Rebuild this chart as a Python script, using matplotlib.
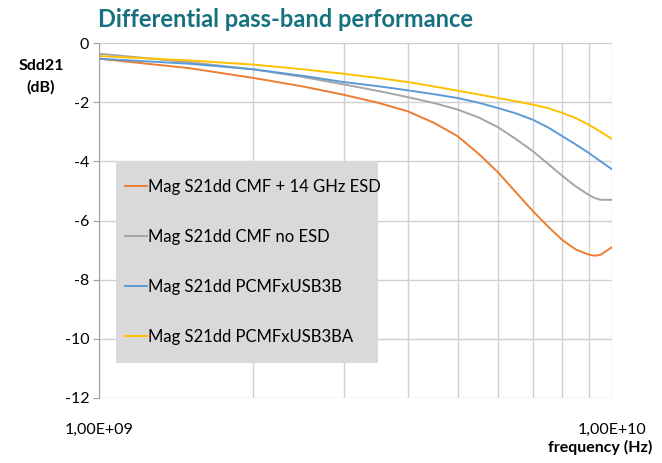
import numpy as np
import matplotlib
matplotlib.use("Agg")
import matplotlib.pyplot as plt
from matplotlib.patches import Rectangle
from matplotlib.ticker import FixedLocator, NullFormatter

plt.rcParams['font.family'] = ['Lato', 'DejaVu Sans']
plt.rcParams['axes.unicode_minus'] = False

# frequency points (GHz) and Sdd21 values (dB)
freq_ghz = [1.0, 1.5, 2.0, 2.5, 3.0, 3.5, 4.0, 4.5, 5.0, 5.5,
            6.0, 6.5, 7.0, 7.5, 8.0, 8.5, 9.0, 9.25, 9.5, 10.0]
cmf_14ghz_esd = [-0.53, -0.85, -1.18, -1.47, -1.75, -2.02, -2.31, -2.70, -3.15, -3.75,
                 -4.38, -5.05, -5.67, -6.20, -6.66, -6.98, -7.15, -7.19, -7.16, -6.90]
cmf_no_esd = [-0.36, -0.65, -0.89, -1.15, -1.40, -1.62, -1.83, -2.03, -2.25, -2.52,
              -2.85, -3.25, -3.65, -4.08, -4.49, -4.85, -5.13, -5.24, -5.30, -5.30]
pcmf_usb3b = [-0.53, -0.70, -0.89, -1.11, -1.32, -1.46, -1.60, -1.73, -1.86, -2.02,
              -2.20, -2.38, -2.59, -2.85, -3.15, -3.43, -3.71, -3.86, -4.00, -4.27]
pcmf_usb3ba = [-0.44, -0.59, -0.73, -0.89, -1.04, -1.18, -1.32, -1.47, -1.61, -1.74,
               -1.86, -1.97, -2.08, -2.20, -2.36, -2.54, -2.76, -2.88, -3.00, -3.24]

labels = ["Mag S21dd CMF + 14 GHz ESD", "Mag S21dd CMF no ESD",
          "Mag S21dd PCMFxUSB3B", "Mag S21dd PCMFxUSB3BA"]
colors = ["#ED7D31", "#A5A5A5", "#5B9BD5", "#FFC000"]

freq = np.array(freq_ghz) * 1e9

fig = plt.figure(figsize=(6.62, 4.63), dpi=100)
ax = fig.add_axes([0.1495, 0.1404, 0.775, 0.7667])

for vals, lab, col in zip([cmf_14ghz_esd, cmf_no_esd, pcmf_usb3b, pcmf_usb3ba], labels, colors):
    ax.plot(freq, vals, color=col, lw=1.4, label=lab)

ax.set_xscale('log')
ax.set_xlim(1e9, 1e10)
ax.set_ylim(-12, 0)
ax.set_yticks(np.arange(-12, 1, 2))
ax.xaxis.set_major_locator(FixedLocator([1e9, 1e10]))
ax.xaxis.set_minor_locator(FixedLocator([k * 1e9 for k in range(2, 10)]))
ax.xaxis.set_minor_formatter(NullFormatter())
ax.set_xticklabels(["1,00E+09", "1,00E+10"])

ax.grid(True, which='both', color='#D0D0D0', lw=1.0)
ax.set_axisbelow(True)
for s in ['top', 'right', 'bottom']:
    ax.spines[s].set_visible(False)
ax.spines['left'].set_color('#A0A0A0')
ax.tick_params(axis='y', length=4, color='#A0A0A0', labelsize=11.5, pad=3)
ax.tick_params(axis='x', which='both', length=0, labelsize=11.5, pad=18)

fig.text(0.148, 0.958, "Differential pass-band performance", color='#16707F',
         fontsize=17, fontweight='bold', va='center', ha='left')
fig.text(0.062, 0.834, "Sdd21\n(dB)", fontsize=11.5, fontweight='bold',
         ha='center', va='center', linespacing=1.55)
fig.text(0.985, 0.034, "frequency (Hz)", fontsize=11.5, fontweight='bold',
         ha='right', va='center')

# grey legend box
box = (0.033, 0.099, 0.511, 0.569)
ax.add_patch(Rectangle(box[:2], box[2], box[3], transform=ax.transAxes,
                       facecolor='#D9D9D9', edgecolor='none', zorder=4))
leg = ax.legend(loc='center left', bbox_to_anchor=box,
                borderaxespad=0, fontsize=12, frameon=False,
                handlelength=1.3, handletextpad=0.1,
                labelspacing=2.05, borderpad=0.55)

fig.savefig("out.png", dpi=100)
